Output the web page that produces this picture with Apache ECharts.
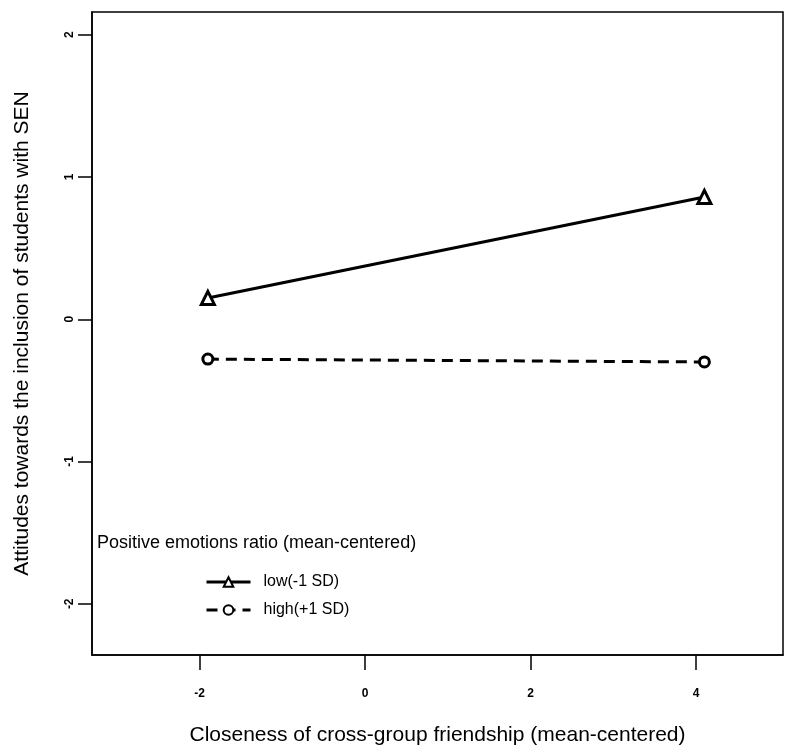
<!DOCTYPE html>
<html lang="en" style="height: 100%">
<head>
  <meta charset="utf-8">
</head>
<body style="height: 100%; margin: 0; background: #fff">
  <div id="container" style="height: 100%"></div>

  <script type="text/javascript" src="https://cdn.jsdelivr.net/npm/echarts@6/dist/echarts.min.js"></script>

  <script type="text/javascript">
    var dom = document.getElementById('container');
    var myChart = echarts.init(dom, null, {
      renderer: 'canvas',
      useDirtyRect: false
    });
    var option;

  // data
  var closeness = [-1.9, 4.1];
  var lowSD = [0.15, 0.86];
  var highSD = [-0.28, -0.30];
  var seriesNames = ['low(-1 SD)', 'high(+1 SD)'];
  var xTicks = [-2, 0, 2, 4];
  var yTicks = [-2, -1, 0, 1, 2];

  var font = 'Liberation Sans, Arial, sans-serif';

  function pairs(ys) {
    return closeness.map(function (x, i) { return [x, ys[i]]; });
  }

  option = {
    backgroundColor: '#fff',
    animation: false,
    grid: {
      left: 92,
      top: 12,
      right: 14,
      bottom: 92,
      outerBoundsMode: 'none',
      show: true,
      borderColor: '#000',
      borderWidth: 1.5,
      backgroundColor: 'transparent'
    },
    graphic: [
      {
        type: 'text',
        left: 97,
        top: 534,
        style: {
          text: 'Positive emotions ratio (mean-centered)',
          font: '18px ' + font,
          fill: '#000'
        }
      }
    ],
    legend: {
      orient: 'vertical',
      left: 200,
      top: 569,
      itemWidth: 44,
      itemHeight: 12,
      itemGap: 12,
      data: seriesNames,
      lineStyle: { width: 3 },
      textStyle: {
        fontFamily: font,
        fontSize: 16,
        color: '#000',
        padding: [0, 0, 0, 8]
      }
    },
    xAxis: {
      type: 'value',
      min: -3.3,
      max: 5.05,
      name: 'Closeness of cross-group friendship (mean-centered)',
      nameLocation: 'middle',
      nameGap: 70,
      nameTextStyle: { fontFamily: font, fontSize: 21, color: '#000' },
      axisLine: { show: true, onZero: false, lineStyle: { color: '#000', width: 1.5 } },
      axisTick: { show: true, length: 15, customValues: xTicks, lineStyle: { color: '#000', width: 1.5 } },
      axisLabel: {
        customValues: xTicks,
        margin: 33,
        fontFamily: font,
        fontSize: 12,
        fontWeight: 'bold',
        color: '#000'
      },
      splitLine: { show: false }
    },
    yAxis: {
      type: 'value',
      min: -2.36,
      max: 2.16,
      name: 'Attitudes towards the inclusion of students with SEN',
      nameLocation: 'middle',
      nameRotate: 90,
      nameGap: 59,
      nameTextStyle: { fontFamily: font, fontSize: 21, color: '#000' },
      axisLine: { show: true, onZero: false, lineStyle: { color: '#000', width: 1.5 } },
      axisTick: { show: true, length: 14, customValues: yTicks, lineStyle: { color: '#000', width: 1.5 } },
      axisLabel: {
        customValues: yTicks,
        rotate: 90,
        margin: 16,
        fontFamily: font,
        fontSize: 12,
        fontWeight: 'bold',
        color: '#000'
      },
      splitLine: { show: false }
    },
    series: [
      {
        name: seriesNames[0],
        type: 'line',
        data: pairs(lowSD),
        symbol: 'triangle',
        symbolSize: 13,
        lineStyle: { color: '#000', width: 3, type: 'solid' },
        itemStyle: { color: '#fff', borderColor: '#000', borderWidth: 3 }
      },
      {
        name: seriesNames[1],
        type: 'line',
        data: pairs(highSD),
        symbol: 'circle',
        symbolSize: 10,
        lineStyle: { color: '#000', width: 3, type: [11, 7] },
        itemStyle: { color: '#fff', borderColor: '#000', borderWidth: 3 }
      }
    ]
  };

    if (option && typeof option === 'object') {
      myChart.setOption(option);
    }

    window.addEventListener('resize', myChart.resize);
  </script>
</body>
</html>
